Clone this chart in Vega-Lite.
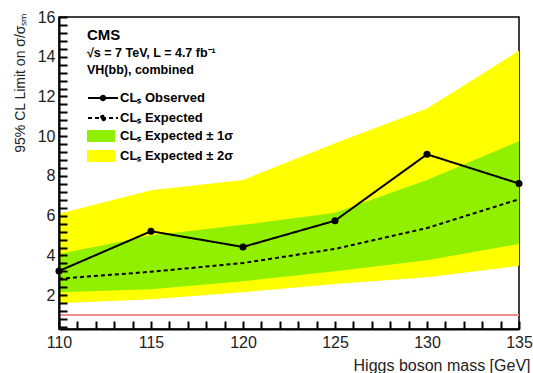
{
  "$schema": "https://vega.github.io/schema/vega-lite/v6.json",
  "width": 460,
  "height": 312,
  "autosize": {"type": "none"},
  "padding": {"left": 59, "top": 17, "right": 14, "bottom": 44},
  "background": "white",
  "title": {
    "text": "CMS",
    "subtitle": ["√s = 7 TeV, L = 4.7 fb⁻¹", "VH(bb), combined"],
    "anchor": "start",
    "frame": "group",
    "orient": "top",
    "offset": 0,
    "dx": 28,
    "dy": 67,
    "font": "Liberation Sans",
    "fontSize": 15,
    "fontWeight": "bold",
    "color": "black",
    "subtitleFont": "Liberation Sans",
    "subtitleFontSize": 12.5,
    "subtitleFontWeight": "bold",
    "subtitleColor": "black",
    "subtitleLineHeight": 17,
    "subtitlePadding": 4
  },
  "data": {
    "values": [
      {"mass": 110, "obs": 3.22, "exp": 2.83, "m2": 1.6, "m1": 2.15, "p1": 4.08, "p2": 6.1},
      {"mass": 115, "obs": 5.22, "exp": 3.18, "m2": 1.8, "m1": 2.3, "p1": 5.0, "p2": 7.28},
      {"mass": 120, "obs": 4.43, "exp": 3.62, "m2": 2.15, "m1": 2.7, "p1": 5.54, "p2": 7.8},
      {"mass": 125, "obs": 5.75, "exp": 4.33, "m2": 2.56, "m1": 3.2, "p1": 6.15, "p2": 9.65},
      {"mass": 130, "obs": 9.09, "exp": 5.38, "m2": 2.9, "m1": 3.76, "p1": 7.8, "p2": 11.4},
      {"mass": 135, "obs": 7.62, "exp": 6.83, "m2": 3.48, "m1": 4.58, "p1": 9.75, "p2": 14.3}
    ]
  },
  "encoding": {
    "x": {
      "field": "mass",
      "type": "quantitative",
      "scale": {"domain": [110, 135], "nice": false, "zero": false},
      "axis": {
        "title": "Higgs boson mass [GeV]",
        "titleFont": "Liberation Sans",
        "titleFontSize": 16,
        "titleFontWeight": "normal",
        "titleColor": "#222",
        "titleAlign": "right",
        "titleBaseline": "alphabetic",
        "titleX": 471,
        "titleY": 41,
        "values": [110,111,112,113,114,115,116,117,118,119,120,121,122,123,124,125,126,127,128,129,130,131,132,133,134,135],
        "labelExpr": "datum.value % 5 === 0 ? datum.label : ''",
        "format": "~g",
        "labelFont": "Liberation Sans",
        "labelFontSize": 16,
        "labelColor": "#222",
        "labelPadding": 13,
        "labelOverlap": false,
        "labelFlush": false,
        "labelBound": false,
        "ticks": true,
        "tickSize": -8,
        "tickColor": "black",
        "tickWidth": 2,
        "tickOpacity": 1,
        "domainColor": "black",
        "domainWidth": 2,
        "grid": false,
        "zindex": 1
      }
    },
    "y": {
      "field": "m2",
      "type": "quantitative",
      "scale": {"domain": [0.3, 16], "nice": false, "zero": false},
      "axis": {
        "title": "95% CL Limit on σ/σₛₘ",
        "titleFont": "Liberation Sans",
        "titleFontSize": 14,
        "titleFontWeight": "normal",
        "titleColor": "#222",
        "titleAlign": "right",
        "titleBaseline": "middle",
        "titleAngle": 270,
        "titleX": -39,
        "titleY": -5,
        "values": [0.4,0.8,1.2,1.6,2,2.4,2.8,3.2,3.6,4,4.4,4.8,5.2,5.6,6,6.4,6.8,7.2,7.6,8,8.4,8.8,9.2,9.6,10,10.4,10.8,11.2,11.6,12,12.4,12.8,13.2,13.6,14,14.4,14.8,15.2,15.6,16],
        "labelExpr": "datum.value % 2 === 0 ? datum.label : ''",
        "format": "~g",
        "labelFont": "Liberation Sans",
        "labelFontSize": 16,
        "labelColor": "#222",
        "labelPadding": 12,
        "labelOverlap": false,
        "labelFlush": false,
        "labelBound": false,
        "ticks": true,
        "tickSize": -8,
        "tickColor": "black",
        "tickWidth": 2,
        "tickOpacity": 1,
        "domainColor": "black",
        "domainWidth": 2,
        "grid": false,
        "zindex": 1
      }
    }
  },
  "layer": [
    {
      "mark": {"type": "area", "opacity": 1},
      "encoding": {
        "y2": {"field": "p2"},
        "fill": {
          "datum": "CLₛ Expected ± 2σ",
          "type": "nominal",
          "scale": {"domain": ["CLₛ Expected ± 1σ", "CLₛ Expected ± 2σ"], "range": ["#90f000", "#ffff00"]},
          "legend": {
            "title": null,
            "orient": "none",
            "legendX": 35.5,
            "legendY": 112.5,
            "padding": 0,
            "rowPadding": 6,
            "symbolType": "M-3.5,-1.5H3.5V1.5H-3.5Z",
            "symbolSize": 64,
            "symbolStrokeWidth": 0,
            "symbolOpacity": 1,
            "labelOffset": 12.5,
            "labelFont": "Liberation Sans",
            "labelFontSize": 13,
            "labelFontWeight": "bold",
            "labelColor": "black",
            "labelLimit": 300
          }
        }
      }
    },
    {
      "mark": {"type": "area", "opacity": 1},
      "encoding": {
        "y": {"field": "m1", "type": "quantitative"},
        "y2": {"field": "p1"},
        "fill": {"datum": "CLₛ Expected ± 1σ", "type": "nominal"}
      }
    },
    {
      "mark": {"type": "line", "color": "black", "strokeWidth": 2},
      "encoding": {
        "y": {"field": "exp", "type": "quantitative"},
        "strokeDash": {
          "datum": "CLₛ Expected",
          "type": "nominal",
          "scale": {"domain": ["CLₛ Observed", "CLₛ Expected"], "range": [[1, 0], [4, 3]]},
          "legend": {
            "title": null,
            "orient": "none",
            "legendX": 37.5,
            "legendY": 74.5,
            "padding": 0,
            "rowPadding": 6,
            "symbolType": "M-3.75,0H3.75M0.55,0A0.55,0.55 0 1 1 -0.55,0A0.55,0.55 0 1 1 0.55,0",
            "symbolSize": 64,
            "symbolStrokeWidth": 2,
            "symbolStrokeColor": "black",
            "symbolFillColor": "black",
            "labelOffset": 10.5,
            "labelFont": "Liberation Sans",
            "labelFontSize": 13,
            "labelFontWeight": "bold",
            "labelColor": "black",
            "labelLimit": 300
          }
        }
      }
    },
    {
      "mark": {"type": "line", "color": "black", "strokeWidth": 2},
      "encoding": {
        "y": {"field": "obs", "type": "quantitative"},
        "strokeDash": {"datum": "CLₛ Observed", "type": "nominal"}
      }
    },
    {
      "mark": {"type": "point", "filled": true, "color": "black", "size": 50, "opacity": 1},
      "encoding": {
        "y": {"field": "obs", "type": "quantitative"}
      }
    },
    {
      "mark": {"type": "rule", "color": "#eb8f8f", "strokeWidth": 1.5},
      "encoding": {"x": {"datum": 110, "type": "quantitative"}, "x2": {"datum": 135}, "y": {"datum": 1, "type": "quantitative"}}
    }
  ],
  "config": {
    "view": {"stroke": "black", "strokeWidth": 1.5},
    "font": "Liberation Sans",
    "axis": {"labelOverlap": false}
  }
}
